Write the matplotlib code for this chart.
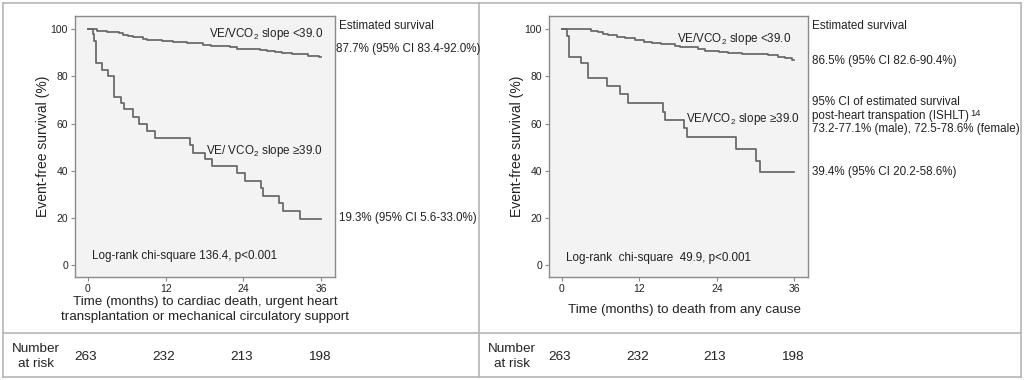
import matplotlib
matplotlib.use("Agg")
import matplotlib.pyplot as plt
from matplotlib.lines import Line2D

plt.rcParams['font.family'] = ['Liberation Sans', 'DejaVu Sans']
plt.rcParams['mathtext.default'] = 'regular'

# ---------------- data ----------------
months_ticks = [0, 12, 24, 36]
surv_ticks = [0, 20, 40, 60, 80, 100]
at_risk = ["263", "232", "213", "198"]

# Left panel: cardiac death / urgent HTx / MCS
left_low_t = [0, 0.8, 1.0, 1.3, 2.15, 3.2, 4.05, 5.1, 5.6, 6.9, 7.95, 9.1, 10.3, 15.8, 16.2,
              18.1, 19.1, 23.05, 24.2, 26.65, 27.05, 29.4, 30.05, 32.7, 36]
left_low_s = [100, 98, 95, 85.8, 82.6, 80.0, 71.3, 68.8, 66.0, 62.8, 59.7, 56.8, 54.0, 50.8, 47.7,
              44.9, 42.1, 38.8, 35.6, 32.5, 29.4, 26.1, 22.9, 19.3, 19.3]
left_high_t = [0, 1.4, 3.0, 4.8, 5.5, 6.2, 7.0, 8.5, 9.2, 11.5, 13.2, 15.3, 17.8, 19.0, 21.9,
               23.0, 26.5, 27.6, 28.8, 29.9, 31.5, 34.0, 35.7, 36]
left_high_s = [100, 99.2, 98.8, 98.3, 97.7, 97.0, 96.5, 96.0, 95.4, 95.0, 94.6, 94.2, 93.3, 92.9, 92.3,
               91.6, 91.1, 90.7, 90.3, 89.9, 89.5, 88.8, 88.0, 88.0]

# Right panel: death from any cause
right_low_t = [0, 0.77, 1.15, 3.0, 4.1, 6.95, 9.0, 10.2, 15.7, 16.05, 18.9, 19.4, 27.0, 30.0, 30.6, 36]
right_low_s = [100, 97, 88.3, 85.7, 79.1, 75.8, 72.5, 68.8, 65.0, 61.7, 57.9, 54.1, 49.4, 44.2, 39.4, 39.4]
right_high_t = [0, 4.5, 5.6, 6.4, 7.2, 8.5, 9.8, 11.4, 12.8, 13.9, 15.4, 17.5, 18.3, 21.1, 22.1,
                24.3, 25.8, 27.9, 31.9, 33.5, 34.6, 35.6, 36]
right_high_s = [100, 99.4, 98.8, 98.0, 97.5, 96.9, 96.4, 95.4, 94.7, 94.0, 93.6, 93.0, 92.3, 91.4, 90.8,
                90.2, 89.7, 89.3, 89.0, 88.3, 87.6, 87.0, 87.0]

W, H = 1024, 380
fig = plt.figure(figsize=(W / 100, H / 100), dpi=100)
fig.patch.set_facecolor('white')

def fx(x):
    return x / W

def fy(y):
    return 1 - y / H

TXT = '#222222'
LINE = '#666666'
SPINE = '#8a8a8a'

def make_axes(left_px, right_px, low_t, low_s, high_t, high_s):
    ax = fig.add_axes([fx(left_px), fy(277), (right_px - left_px) / W, (277 - 16) / H])
    ax.set_facecolor('#f3f3f3')
    ax.step(high_t, high_s, where='post', color=LINE, lw=1.25)
    ax.step(low_t, low_s, where='post', color=LINE, lw=1.25)
    ax.set_xlim(-1.96, 38.1)
    ax.set_ylim(-5.1, 105.6)
    ax.set_xticks(months_ticks)
    ax.set_yticks(surv_ticks)
    ax.tick_params(direction='out', length=3, width=0.8, color=SPINE, labelsize=7.5,
                   labelcolor=TXT, pad=2)
    for sp in ax.spines.values():
        sp.set_color(SPINE)
        sp.set_linewidth(1.0)
    ax.set_ylabel('Event-free survival (%)', fontsize=10, color=TXT, labelpad=0.5)
    return ax

axL = make_axes(75, 335, left_low_t, left_low_s, left_high_t, left_high_s)
axR = make_axes(549, 808, right_low_t, right_low_s, right_high_t, right_high_s)

ANN = 8.4
# Left panel annotations
axL.text(36.3, 96.6, 'VE/VCO$_2$ slope <39.0', ha='right', va='baseline', fontsize=ANN, color=TXT)
axL.text(36.3, 47.1, 'VE/ VCO$_2$ slope ≥39.0', ha='right', va='baseline', fontsize=ANN, color=TXT)
axL.text(0.6, 2.5, 'Log-rank chi-square 136.4, p<0.001', ha='left', va='baseline', fontsize=ANN, color=TXT)
fig.text(fx(339), fy(29.3), 'Estimated survival', ha='left', va='baseline', fontsize=ANN, color=TXT)
fig.text(fx(336.5), fy(51.7), '87.7% (95% CI 83.4-92.0%)', ha='left', va='baseline', fontsize=ANN, color=TXT)
fig.text(fx(339), fy(221), '19.3% (95% CI 5.6-33.0%)', ha='left', va='baseline', fontsize=ANN, color=TXT)
fig.text(fx(205), fy(309.5), 'Time (months) to cardiac death, urgent heart\ntransplantation or mechanical circulatory support',
         ha='center', va='center', fontsize=9.6, color=TXT, linespacing=1.25)

# Right panel annotations
axR.text(35.5, 94.7, 'VE/VCO$_2$ slope <39.0', ha='right', va='baseline', fontsize=ANN, color=TXT)
axR.text(36.8, 60.8, 'VE/VCO$_2$ slope ≥39.0', ha='right', va='baseline', fontsize=ANN, color=TXT)
axR.text(0.7, 1.7, 'Log-rank  chi-square  49.9, p<0.001', ha='left', va='baseline', fontsize=ANN, color=TXT)
fig.text(fx(812), fy(29.3), 'Estimated survival', ha='left', va='baseline', fontsize=ANN, color=TXT)
fig.text(fx(812), fy(64.3), '86.5% (95% CI 82.6-90.4%)', ha='left', va='baseline', fontsize=ANN, color=TXT)
fig.text(fx(812), fy(105), '95% CI of estimated survival', ha='left', va='baseline', fontsize=ANN, color=TXT)
post = fig.text(fx(812), fy(119), 'post-heart transpation (ISHLT)', ha='left', va='baseline', fontsize=ANN, color=TXT)
fig.text(fx(812), fy(132.3), '73.2-77.1% (male), 72.5-78.6% (female)', ha='left', va='baseline', fontsize=ANN, color=TXT)
fig.text(fx(812), fy(175), '39.4% (95% CI 20.2-58.6%)', ha='left', va='baseline', fontsize=ANN, color=TXT)
fig.text(fx(684), fy(309.5), 'Time (months) to death from any cause', ha='center', va='center', fontsize=9.6, color=TXT)

# superscript reference number placed right after the ISHLT line
renderer = fig.canvas.get_renderer()
bb = post.get_window_extent(renderer=renderer)
fig.text((bb.x1 + 1) / W, fy(116.5), '14', ha='left', va='baseline', fontsize=6.8, color=TXT)

# Number at risk rows
for ax, lab_x in ((axL, 36), (axR, 512)):
    fig.text(fx(lab_x), fy(349.5), 'Number', ha='center', va='center', fontsize=9.7, color=TXT)
    fig.text(fx(lab_x), fy(364), 'at risk', ha='center', va='center', fontsize=9.7, color=TXT)
    for t, n in zip(months_ticks, at_risk):
        disp = ax.transData.transform((t, 0))
        xf = fig.transFigure.inverted().transform(disp)[0]
        fig.text(xf - 2 / W, fy(356.5), n, ha='center', va='center', fontsize=9.7, color=TXT)

# Frame lines
BC = '#b5b5b5'
def fline(x0, y0, x1, y1):
    fig.add_artist(Line2D([fx(x0), fx(x1)], [fy(y0), fy(y1)], color=BC, lw=1.2,
                          transform=fig.transFigure))
fline(3, 3, 1021, 3)
fline(3, 377, 1021, 377)
fline(3, 3, 3, 377)
fline(1021, 3, 1021, 377)
fline(479, 3, 479, 377)
fline(3, 333, 1021, 333)

fig.savefig('out.png', dpi=100, facecolor='white')
